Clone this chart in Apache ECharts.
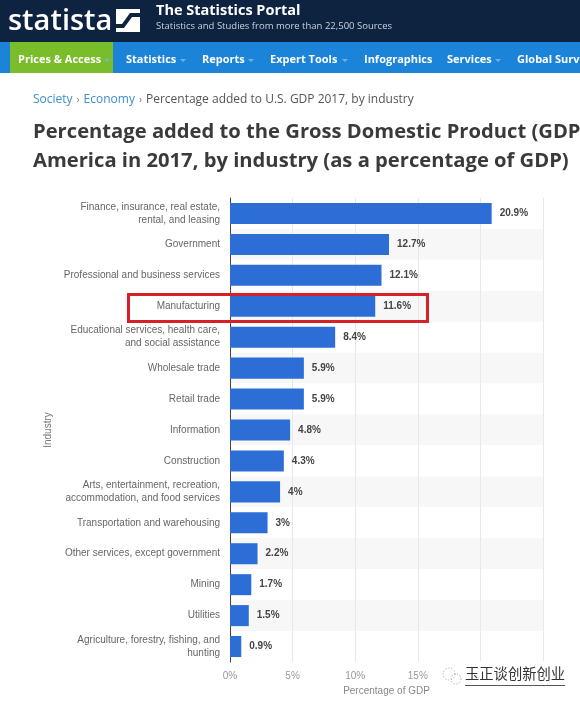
<!DOCTYPE html>
<html>
<head>
<meta charset="utf-8">
<script src="https://cdn.jsdelivr.net/npm/echarts@6/dist/echarts.min.js"></script>
<style>
html,body{margin:0;padding:0;background:#fff;}
#c{width:580px;height:701px;}
</style>
</head>
<body>
<div id="c"></div>
<script>
const categories = [
  "Finance, insurance, real estate,\nrental, and leasing",
  "Government",
  "Professional and business services",
  "Manufacturing",
  "Educational services, health care,\nand social assistance",
  "Wholesale trade",
  "Retail trade",
  "Information",
  "Construction",
  "Arts, entertainment, recreation,\naccommodation, and food services",
  "Transportation and warehousing",
  "Other services, except government",
  "Mining",
  "Utilities",
  "Agriculture, forestry, fishing, and\nhunting"
];
const values = [20.9, 12.7, 12.1, 11.6, 8.4, 5.9, 5.9, 4.8, 4.3, 4, 3, 2.2, 1.7, 1.5, 0.9];
const xTicks = { min: 0, max: 25, interval: 5 };
const navItems = ["Prices & Access", "Statistics", "Reports", "Expert Tools", "Infographics", "Services", "Global Surveys"];
const navX = [18, 126, 202, 270, 364, 447, 517];
const navArrowX = [104, 180, 248, 342, null, 495, null];

const chart = echarts.init(document.getElementById('c'), null, {renderer: 'canvas'});
const OS = "'Open Sans', 'Noto Sans', sans-serif";
const AR = "'Liberation Sans', Arial, sans-serif";

const graphics = [
  {type:'rect', shape:{x:0,y:0,width:580,height:42}, style:{fill:'#0e2340'}, z:0},
  {type:'text', left:8, top:7, style:{text:'statista', fill:'#ffffff', font:"600 29px " + OS}},
  {type:'rect', shape:{x:116,y:9,width:24,height:23}, style:{fill:'#ffffff'}},
  {type:'polygon', shape:{points:[[116,28],[124,28],[132,17],[140,17],[140,13],[130,13],[122,24],[116,24]]}, style:{fill:'#0e2340'}},
  {type:'text', left:156, top:3, style:{text:'The Statistics Portal', fill:'#ffffff', font:"bold 14.5px " + OS}},
  {type:'text', left:156, top:21, style:{text:'Statistics and Studies from more than 22,500 Sources', fill:'#c9d2dd', font:"9.5px " + OS}},
  {type:'rect', shape:{x:0,y:42,width:580,height:31}, style:{fill:'#1c84d8'}},
  {type:'rect', shape:{x:10,y:42,width:103,height:31}, style:{fill:'#79bd2a'}},
  {type:'text', left:33, top:94, style:{rich:{
      a:{fill:'#3d8fcf', font:"12px " + OS},
      s:{fill:'#777', font:"10px " + OS, padding:[0,4,0,4]},
      b:{fill:'#555', font:"12px " + OS}
    }, text:'{a|Society}{s|›}{a|Economy}{s|›}{b|Percentage added to U.S. GDP 2017, by industry}'}},
  {type:'text', left:33, top:122, style:{text:'Percentage added to the Gross Domestic Product (GDP) of the United States of', fill:'#3a3a3a', font:"bold 20.2px " + OS}},
  {type:'text', left:33, top:151, style:{text:'America in 2017, by industry (as a percentage of GDP)', fill:'#3a3a3a', font:"bold 20.2px " + OS}},
  {type:'rect', shape:{x:128.5,y:294.5,width:299,height:27}, style:{fill:'none', stroke:'#d42229', lineWidth:3}, z:100},
  {type:'rect', shape:{x:436,y:661,width:136,height:30}, style:{fill:'#ffffff'}, z:100},
  {type:'circle', shape:{cx:449,cy:674,r:6}, style:{fill:'none', stroke:'#999', lineWidth:1, lineDash:[1,2]}, z:101},
  {type:'circle', shape:{cx:456,cy:679,r:5}, style:{fill:'none', stroke:'#999', lineWidth:1, lineDash:[1,2]}, z:101},
  {type:'text', left:465, top:666, style:{text:'玉正谈创新创业', fill:'#333', font:"14.3px 'Noto Sans CJK SC', sans-serif"}, z:101},
  {type:'rect', shape:{x:465,y:685,width:100,height:1}, style:{fill:'#555'}, z:101}
];
navItems.forEach((t, i) => {
  graphics.push({type:'text', left:navX[i], top:54, style:{text:t, fill:'#ffffff', font:"bold 11px " + OS}});
  if (navArrowX[i] !== null) {
    graphics.push({type:'polygon', shape:{points:[[navArrowX[i],59],[navArrowX[i]+6,59],[navArrowX[i]+3,62]]}, style:{fill:'#6fb3ea'}});
  }
});

chart.setOption({
  animation: false,
  backgroundColor: '#ffffff',
  grid: {left: 230, right: 37, top: 198, bottom: 37, containLabel: false},
  xAxis: {
    type: 'value', min: xTicks.min, max: xTicks.max, interval: xTicks.interval,
    axisLine: {show: false}, axisTick: {show: false},
    splitLine: {lineStyle: {color: '#e8e8e8', width: 1}},
    axisLabel: {formatter: '{value}%', color: '#999', fontSize: 10, fontFamily: AR, margin: 9},
    name: 'Percentage of GDP', nameLocation: 'middle', nameGap: 24,
    nameTextStyle: {color: '#888', fontSize: 10, fontFamily: AR}
  },
  yAxis: {
    type: 'category', data: categories, inverse: true,
    axisLine: {show: true, lineStyle: {color: '#444', width: 1}},
    axisTick: {show: false},
    splitArea: {show: true, areaStyle: {color: ['#ffffff', '#f7f7f7']}},
    axisLabel: {color: '#666', fontSize: 10, fontFamily: AR, margin: 10, lineHeight: 13, align: 'right'},
    name: 'Industry', nameLocation: 'middle', nameRotate: 90, nameGap: 176,
    nameTextStyle: {color: '#777', fontSize: 10, fontFamily: AR}
  },
  series: [{
    type: 'bar', data: values, barCategoryGap: '32%',
    itemStyle: {color: '#2d6ed6'},
    label: {show: true, position: 'right', distance: 8, formatter: p => p.value + '%',
      color: '#444', fontSize: 10, fontWeight: 'bold', fontFamily: AR}
  }],
  graphic: graphics
});
</script>
</body>
</html>
